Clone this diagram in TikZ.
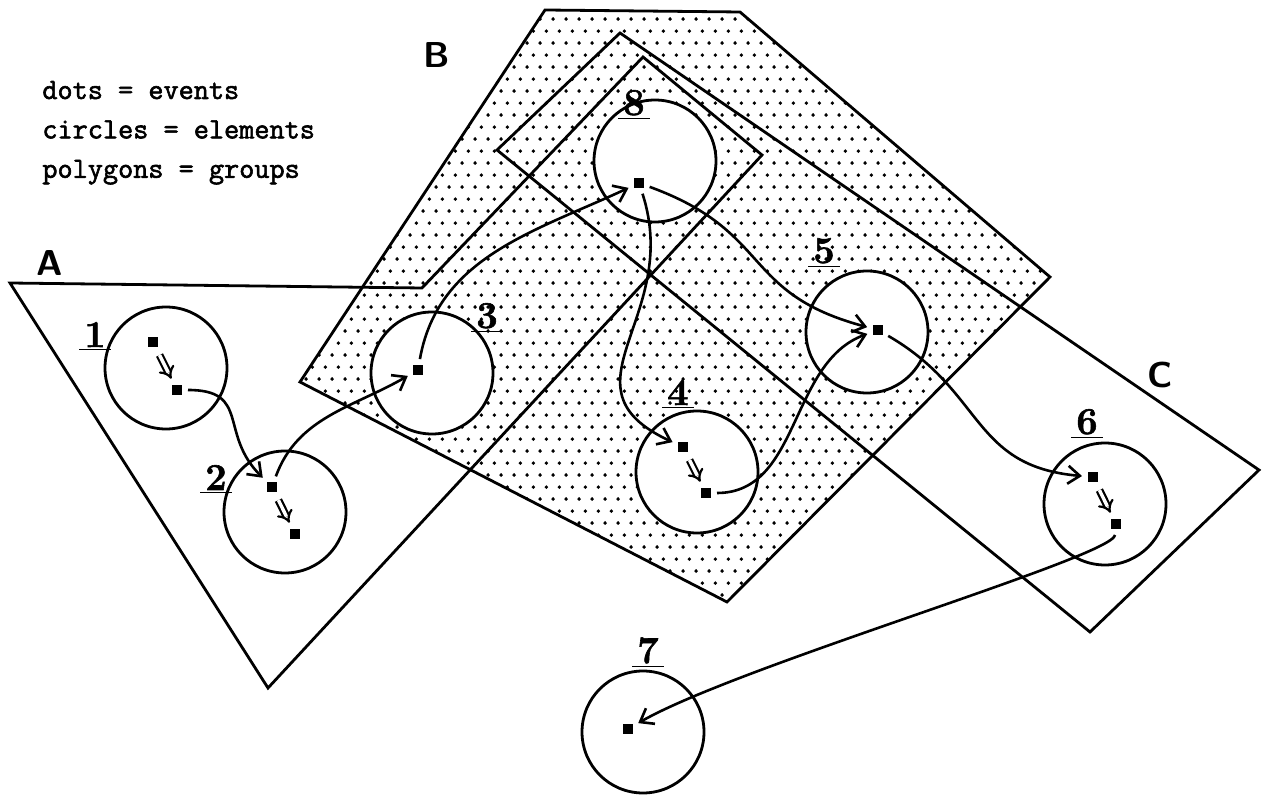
\documentclass[tikz,border=0pt]{standalone}
\usepackage{fontspec}
\usepackage{tikz}
\usetikzlibrary{arrows.meta,patterns.meta,positioning}

\newfontfamily\legendfont[FakeBold=2]{Latin Modern Mono}
\newfontfamily\numfont[FakeBold=1.5]{Latin Modern Roman}

\tikzdeclarepattern{
  name=sparsedots,
  bottom left={(0pt,0pt)},
  top right={(6.6pt,12.2pt)},
  tile size={(6.6pt,12.2pt)},
  code={
    \fill (1.65pt,3.05pt) circle (1.0pt);
    \fill (4.95pt,9.15pt) circle (1.0pt);
  }
}

\newcommand{\elnum}[1]{\underline{\kern2.5pt#1\kern2.5pt}}

\begin{document}
\begin{tikzpicture}[x=0.5pt,y=-0.5pt,
element/.style={circle, draw, line width=1.4pt, fill=white, minimum size=61pt, inner sep=0pt},
event/.style={rectangle, fill=black, minimum size=4.6pt, inner sep=0pt},
num/.style={font=\fontsize{19}{19}\selectfont\numfont\bfseries, inner sep=0pt, anchor=base},
grp/.style={font=\fontsize{18}{18}\selectfont\sffamily\bfseries, inner sep=0pt},
legend/.style={font=\fontsize{14.7}{19.7}\selectfont\legendfont, inner sep=0pt, anchor=base west},
group/.style={line width=1.4pt, line join=miter},
link/.style={-{Straight Barb[length=6pt,width=9pt]}, line width=1.3pt, shorten <=3pt, shorten >=3pt},
order/.style={double, double distance=1.7pt, line width=1.1pt, -{Implies}, shorten <=4.5pt, shorten >=3.5pt}]

\useasboundingbox (0,0) rectangle (1263,795);

% legend
\node[legend] (l1) at (42,99) {dots = events};
\node[legend] (l2) at ([yshift=-19.7pt]l1.base west) {circles = elements};
\node[legend] (l3) at ([yshift=-19.7pt]l2.base west) {polygons = groups};

% groups
\draw[group, pattern=sparsedots] (545,10) -- (740,12) -- (1050,277) -- (727,602) -- (300,382) -- cycle;
\draw[group] (10,283) -- (422,288) -- (643,57) -- (762,155) -- (268,688) -- cycle;
\draw[group] (620,33) -- (1259,470) -- (1090,632) -- (497,150) -- cycle;

\node[grp] (ga) at (50,263) {A};
\node[grp] (gb) at (437,55) {B};
\node[grp] (gc) at (1160,375) {C};

% elements
\node[element] (e1) at (166,368) {};
\node[element] (e2) at (285,512) {};
\node[element] (e3) at (432,373) {};
\node[element] (e8) at (655,161) {};
\node[element] (e4) at (697,472) {};
\node[element] (e5) at (867,332) {};
\node[element] (e6) at (1105,504) {};
\node[element] (e7) at (643,732) {};

\node[num] (n1) at (95,347) {\elnum{1}};
\node[num] (n2) at (216,490) {\elnum{2}};
\node[num] (n3) at (487,328) {\elnum{3}};
\node[num] (n8) at (634,115) {\elnum{8}};
\node[num] (n4) at (678,405) {\elnum{4}};
\node[num] (n5) at (824,263) {\elnum{5}};
\node[num] (n6) at (1087,434) {\elnum{6}};
\node[num] (n7) at (648,663) {\elnum{7}};

% events
\node[event] (d1a) at (153,342) {};
\node[event] (d1b) at (177,390) {};
\node[event] (d2a) at (272,487) {};
\node[event] (d2b) at (295,534) {};
\node[event] (d3) at (418,370) {};
\node[event] (d8) at (639,183) {};
\node[event] (d4a) at (683,447) {};
\node[event] (d4b) at (706,493) {};
\node[event] (d5) at (878,330) {};
\node[event] (d6a) at (1093,477) {};
\node[event] (d6b) at (1116,524) {};
\node[event] (d7) at (628,729) {};

% order inside an element
\draw[order] (d1a) -- (d1b);
\draw[order] (d2a) -- (d2b);
\draw[order] (d4a) -- (d4b);
\draw[order] (d6a) -- (d6b);

% links between elements
\draw[link] (d1b) to[out=0, in=135, looseness=1.4] (d2a);
\draw[link] (d2a) to[out=70, in=210] (d3);
\draw[link] (d3) to[out=80, in=205] (d8);
\draw[link] (d8) to[out=-72, in=155, looseness=1.35] (d4a);
\draw[link] (d8) to[out=-20, in=165, looseness=1.3] (d5);
\draw[link] (d4b) to[out=0, in=200] (d5);
\draw[link] (d5) to[out=-30, in=175, looseness=1.2] (d6a);
\draw[link] (d6b) to[out=265, in=30, out distance=14pt, in distance=60pt] (d7);

\end{tikzpicture}
\end{document}
